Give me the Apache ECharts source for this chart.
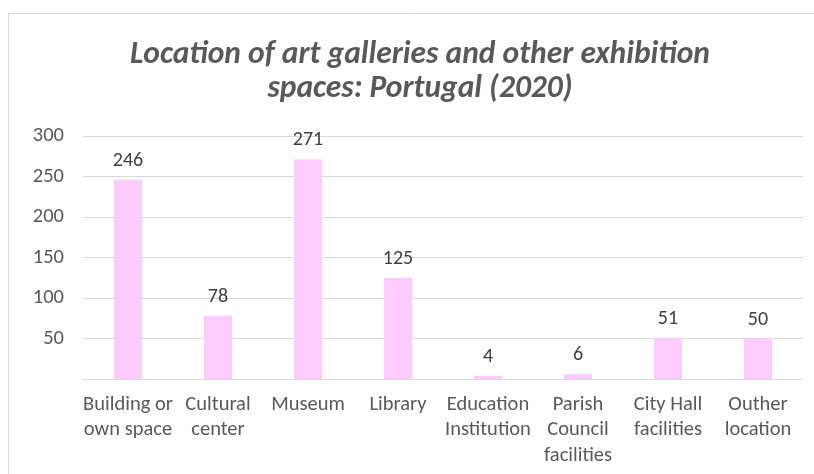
<!DOCTYPE html>
<html>
<head>
<meta charset="utf-8">
<script src="https://cdn.jsdelivr.net/npm/echarts@6/dist/echarts.min.js"></script>
<style>
  html, body { margin: 0; padding: 0; background: #ffffff; }
  #chart { width: 814px; height: 474px; }
</style>
</head>
<body>
<div id="chart"></div>
<script>
// Where art galleries and exhibition spaces are located (Portugal, 2020)
const categories = [
  'Building or\nown space',
  'Cultural\ncenter',
  'Museum',
  'Library',
  'Education\nInstitution',
  'Parish\nCouncil\nfacilities',
  'City Hall\nfacilities',
  'Outher\nlocation'
];
const counts = [246, 78, 271, 125, 4, 6, 51, 50];
const yTicks = { min: 0, max: 300, interval: 50 };
const titleText = 'Location of art galleries and other exhibition\nspaces: Portugal (2020)';

const chart = echarts.init(document.getElementById('chart'), null, { renderer: 'canvas' });
const fontFamily = 'Calibri, Carlito, "Open Sans", "Liberation Sans", sans-serif';

chart.setOption({
  animation: false,
  backgroundColor: '#ffffff',
  graphic: [{
    type: 'rect',
    shape: { x: 8.5, y: 13.5, width: 826, height: 480 },
    style: { fill: 'none', stroke: '#d9d9d9', lineWidth: 1 },
    silent: true,
    z: -10
  }],
  title: {
    text: titleText,
    left: 415,
    textAlign: 'center',
    top: 33,
    textStyle: {
      fontFamily: fontFamily,
      fontStyle: 'italic',
      fontWeight: 'bold',
      fontSize: 31.5,
      lineHeight: 34,
      color: '#595959'
    }
  },
  grid: { left: 83, right: 11, top: 136, bottom: 95, containLabel: false },
  xAxis: {
    type: 'category',
    data: categories,
    axisLine: { show: true, lineStyle: { color: '#d9d9d9', width: 1 } },
    axisTick: { show: false },
    axisLabel: {
      interval: 0,
      margin: 13,
      fontFamily: fontFamily,
      fontSize: 20.5,
      lineHeight: 25.5,
      color: '#595959'
    }
  },
  yAxis: {
    type: 'value',
    min: yTicks.min,
    max: yTicks.max,
    interval: yTicks.interval,
    axisLine: { show: false },
    axisTick: { show: false },
    splitLine: { lineStyle: { color: '#d9d9d9', width: 1 } },
    axisLabel: {
      margin: 19,
      fontFamily: fontFamily,
      fontSize: 20.5,
      color: '#595959',
      formatter: v => (v === 0 ? '' : String(v))
    }
  },
  series: [{
    type: 'bar',
    data: counts,
    barWidth: 28,
    itemStyle: { color: '#ffccff' },
    label: {
      show: true,
      position: 'top',
      distance: 9,
      fontFamily: fontFamily,
      fontSize: 20,
      color: '#404040'
    }
  }]
});
</script>
</body>
</html>
